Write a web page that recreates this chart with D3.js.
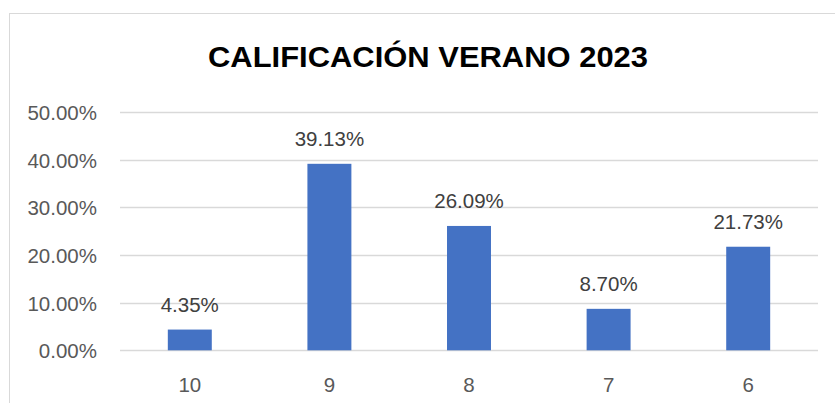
<!DOCTYPE html>
<html>
<head>
<meta charset="utf-8">
<script src="https://cdn.jsdelivr.net/npm/d3@7"></script>
<style>
  body { margin: 0; background: #fff; }
  svg { display: block; }
</style>
</head>
<body>
<div id="display"></div>
<script>
// Chart data
const categories = ['10', '9', '8', '7', '6'];
const values = [0.0435, 0.3913, 0.2609, 0.0870, 0.2173];
const yTicks = [0, 0.1, 0.2, 0.3, 0.4, 0.5];
const title = 'CALIFICACIÓN VERANO 2023';

const width = 835, height = 403;
const font = '"Liberation Sans", Arial, sans-serif';

const svg = d3.select('#display')
  .append('svg')
  .attr('width', width)
  .attr('height', height);

// chart frame (runs off the right and bottom edge)
svg.append('rect')
  .attr('x', 9.5)
  .attr('y', 13.5)
  .attr('width', 1000)
  .attr('height', 1000)
  .attr('fill', 'white')
  .attr('stroke', '#d9d9d9');

const x = d3.scaleBand()
  .domain(categories)
  .range([120, 818])
  .paddingInner(0.685)
  .paddingOuter(0.3425);

const y = d3.scaleLinear()
  .domain([0, 0.5])
  .range([350.3, 112]);

const pct = d3.format('.2%');

// gridlines
svg.append('g')
  .selectAll('line')
  .data(yTicks)
  .join('line')
  .attr('x1', 120)
  .attr('x2', 818)
  .attr('y1', d => Math.round(y(d)) + 0.5)
  .attr('y2', d => Math.round(y(d)) + 0.5)
  .attr('stroke', '#d9d9d9')
  .attr('stroke-width', 1.3);

// y axis labels
const yAxis = svg.append('g')
  .attr('transform', 'translate(112,0)')
  .call(d3.axisLeft(y).tickValues(yTicks).tickFormat(pct).tickSize(0).tickPadding(15));
yAxis.select('.domain').remove();
yAxis.selectAll('text')
  .attr('font-family', font)
  .attr('font-size', '20.5px')
  .attr('fill', '#595959')
  .attr('dy', '0.36em');

// x axis labels
const xAxis = svg.append('g')
  .attr('transform', `translate(0,${y(0)})`)
  .call(d3.axisBottom(x).tickSize(0).tickPadding(0));
xAxis.select('.domain').remove();
xAxis.selectAll('text')
  .attr('font-family', font)
  .attr('font-size', '20.5px')
  .attr('fill', '#595959')
  .attr('dy', null)
  .attr('y', 41.5);

// bars
svg.append('g')
  .selectAll('rect')
  .data(values)
  .join('rect')
  .attr('x', (d, i) => x(categories[i]))
  .attr('y', d => y(d))
  .attr('width', x.bandwidth())
  .attr('height', d => y(0) - y(d))
  .attr('fill', '#4472c4');

// data labels
svg.append('g')
  .selectAll('text')
  .data(values)
  .join('text')
  .attr('x', (d, i) => x(categories[i]) + x.bandwidth() / 2)
  .attr('y', d => y(d) - 17.7)
  .attr('text-anchor', 'middle')
  .attr('font-family', font)
  .attr('font-size', '20.5px')
  .attr('fill', '#404040')
  .text(d => pct(d));

// title
svg.append('text')
  .attr('x', 428)
  .attr('y', 66.7)
  .attr('text-anchor', 'middle')
  .attr('font-family', font)
  .attr('font-weight', 'bold')
  .attr('font-size', '29px')
  .attr('textLength', 440)
  .attr('lengthAdjust', 'spacingAndGlyphs')
  .attr('fill', '#000')
  .text(title);
</script>
</body>
</html>
